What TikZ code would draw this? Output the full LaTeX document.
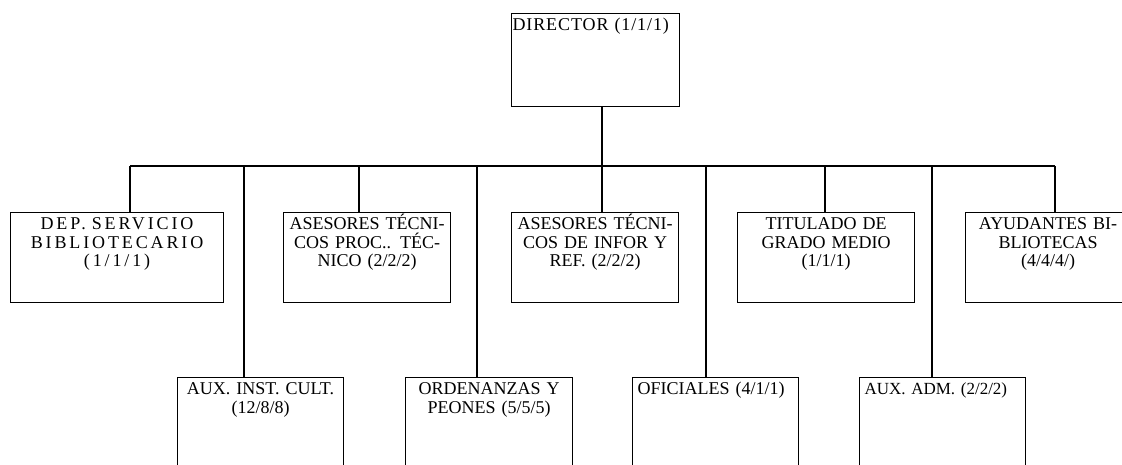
\documentclass[tikz,border=0pt]{standalone}
\usepackage{fontspec}
\setmainfont{Liberation Serif}
\usetikzlibrary{positioning}

\begin{document}
\begin{tikzpicture}[x=1pt, y=-1pt,
  unit/.style={rectangle, draw, line width=1.1pt, anchor=north west, inner xsep=2pt, inner ysep=4pt, text height=13pt, align=center, font=\fontsize{18}{18.7}\selectfont},
  upper/.style={unit, text depth=69pt},
  lower/.style={unit, text depth=109pt},
  spaced/.style={font=\fontsize{18}{18.7}\selectfont\addfontfeature{LetterSpace=#1}},
  link/.style={line width=1.1pt}]

\useasboundingbox (0,0) rectangle (1122,464);
\clip (0,0) rectangle (1122,464);

% Nodes
\node (dir) [unit, spaced=5, inner xsep=1pt, align=left, text width=166pt, text depth=72pt] at (511,13) {DIRECTOR (1/1/1)};

\node (dep) [upper, spaced=16, text width=209pt] at (10,212) {DEP. SERVICIO\\BIBLIOTECARIO\\(1/1/1)};
\node (proc) [upper, text width=163pt] at (283,212) {ASESORES TÉCNI-\\COS PROC.. TÉC-\\NICO (2/2/2)};
\node (infor) [upper, text width=163pt] at (511,212) {ASESORES TÉCNI-\\COS DE INFOR Y\\REF. (2/2/2)};
\node (tit) [upper, text width=173pt] at (737,212) {TITULADO DE\\GRADO MEDIO\\(1/1/1)};
\node (ayu) [upper, text width=161pt] at (965,212) {AYUDANTES BI-\\BLIOTECAS\\(4/4/4/)};

\node (aux) [lower, text width=162pt] at (177,377) {AUX. INST. CULT.\\(12/8/8)};
\node (ord) [lower, text width=163pt] at (405,377) {ORDENANZAS Y\\PEONES (5/5/5)};
\node (ofi) [lower, inner xsep=5pt, align=left, text width=156pt] at (632,377) {OFICIALES (4/1/1)};
\node (adm) [lower, font=\fontsize{17}{18.7}\selectfont, inner xsep=5pt, align=left, text width=156pt] at (859,377) {AUX. ADM. (2/2/2)};

% Junctions on the bus
\coordinate (jDep) at (130,166);
\coordinate (jAux) at (244,166);
\coordinate (jProc) at (359,166);
\coordinate (jOrd) at (477,166);
\coordinate (jInfor) at (602,166);
\coordinate (jOfi) at (706,166);
\coordinate (jTit) at (825,166);
\coordinate (jAdm) at (932,166);
\coordinate (jAyu) at (1055,166);

% Lines
\draw[link] (jDep) -- (jAyu);
\draw[link] (dir.south -| jInfor) -- (infor.north -| jInfor);
\draw[link] (jDep) -- (dep.north -| jDep);
\draw[link] (jAux) -- (aux.north -| jAux);
\draw[link] (jProc) -- (proc.north -| jProc);
\draw[link] (jOrd) -- (ord.north -| jOrd);
\draw[link] (jOfi) -- (ofi.north -| jOfi);
\draw[link] (jTit) -- (tit.north -| jTit);
\draw[link] (jAdm) -- (adm.north -| jAdm);
\draw[link] (jAyu) -- (ayu.north -| jAyu);

\end{tikzpicture}
\end{document}
